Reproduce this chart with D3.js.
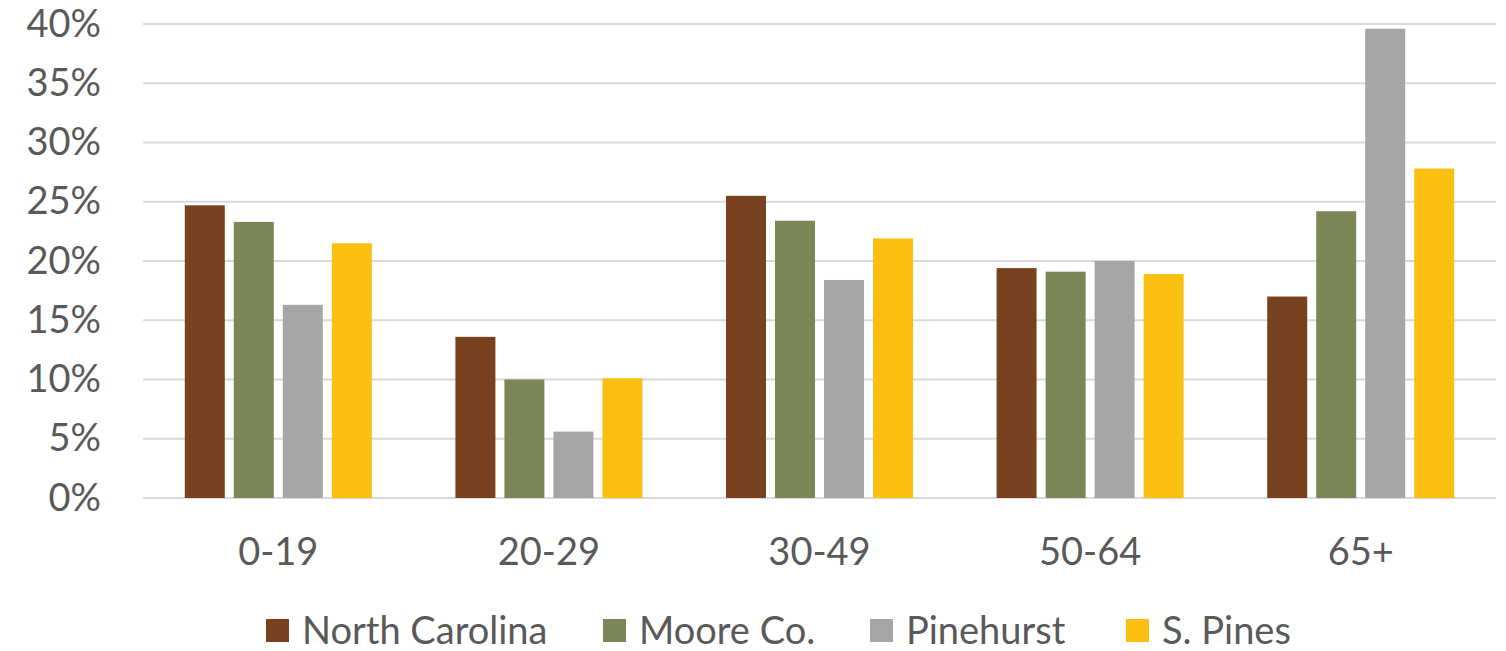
<!DOCTYPE html>
<html>
<head>
<meta charset="utf-8">
<script src="https://cdn.jsdelivr.net/npm/d3@7"></script>
<style>
  body { margin: 0; background: #fff; }
  text { font-family: Lato, "Open Sans", sans-serif; fill: #595959; }
</style>
</head>
<body>
<script>
// Age group shares by area
const ageGroups = ['0-19', '20-29', '30-49', '50-64', '65+'];
const areas = ['North Carolina', 'Moore Co.', 'Pinehurst', 'S. Pines'];
const northCarolina = [0.247, 0.136, 0.255, 0.194, 0.170];
const mooreCo = [0.233, 0.100, 0.234, 0.191, 0.242];
const pinehurst = [0.163, 0.056, 0.184, 0.200, 0.396];
const sPines = [0.215, 0.101, 0.219, 0.189, 0.278];
const yTicks = [0, 0.05, 0.10, 0.15, 0.20, 0.25, 0.30, 0.35, 0.40];
const colors = ['#784120', '#7b8656', '#a5a5a5', '#fbbf10'];

const width = 1506;
const height = 651;
const margin = {top: 24, right: 10, bottom: 153, left: 143};

const seriesValues = [northCarolina, mooreCo, pinehurst, sPines];
const data = ageGroups.map((g, i) => ({
  group: g,
  values: areas.map((a, j) => ({area: a, value: seriesValues[j][i]}))
}));

const svg = d3.select('body')
  .append('svg')
  .attr('width', width)
  .attr('height', height);

// Scales
const x0 = d3.scaleBand()
  .domain(ageGroups)
  .range([margin.left, width - margin.right]);

const x1 = d3.scaleBand()
  .domain(areas)
  .range([-93.5, 93.5])
  .paddingInner(0.184);

const y = d3.scaleLinear()
  .domain([0, 0.40])
  .range([height - margin.bottom, margin.top]);

const color = d3.scaleOrdinal().domain(areas).range(colors);

// Gridlines
svg.append('g')
  .classed('grid', true)
  .selectAll('line')
  .data(yTicks)
  .join('line')
  .attr('x1', margin.left)
  .attr('x2', width - margin.right)
  .attr('y1', d => y(d))
  .attr('y2', d => y(d))
  .attr('stroke', '#d9d9d9')
  .attr('stroke-width', 2);

// Y axis labels
const yAxis = d3.axisLeft(y)
  .tickValues(yTicks)
  .tickFormat(d3.format('.0%'))
  .tickSize(0)
  .tickPadding(42);

svg.append('g')
  .attr('transform', 'translate(' + margin.left + ',0)')
  .call(yAxis)
  .call(g => g.select('.domain').remove())
  .selectAll('text')
  .style('font-size', '38px')
  .attr('fill', '#595959');

// X axis labels
const xAxis = d3.axisBottom(x0).tickSize(0).tickPadding(40);

svg.append('g')
  .attr('transform', 'translate(0,' + (height - margin.bottom) + ')')
  .call(xAxis)
  .call(g => g.select('.domain').remove())
  .selectAll('text')
  .style('font-size', '38px')
  .attr('fill', '#595959');

// Bars
svg.append('g')
  .selectAll('g')
  .data(data)
  .join('g')
  .attr('transform', d => 'translate(' + (x0(d.group) + x0.bandwidth() / 2) + ',0)')
  .selectAll('rect')
  .data(d => d.values)
  .join('rect')
  .attr('x', d => x1(d.area))
  .attr('width', x1.bandwidth())
  .attr('y', d => y(d.value))
  .attr('height', d => y(0) - y(d.value))
  .attr('fill', d => color(d.area));

// Legend
const legendX = [266, 603, 870, 1126];
const legend = svg.append('g')
  .selectAll('g')
  .data(areas)
  .join('g')
  .attr('transform', (d, i) => 'translate(' + legendX[i] + ',631)');

legend.append('rect')
  .attr('x', 0)
  .attr('y', -12)
  .attr('width', 23)
  .attr('height', 23)
  .attr('fill', d => color(d));

legend.append('text')
  .attr('x', 36)
  .attr('y', 0)
  .attr('dy', '0.35em')
  .style('font-size', '38px')
  .text(d => d);
</script>
</body>
</html>
